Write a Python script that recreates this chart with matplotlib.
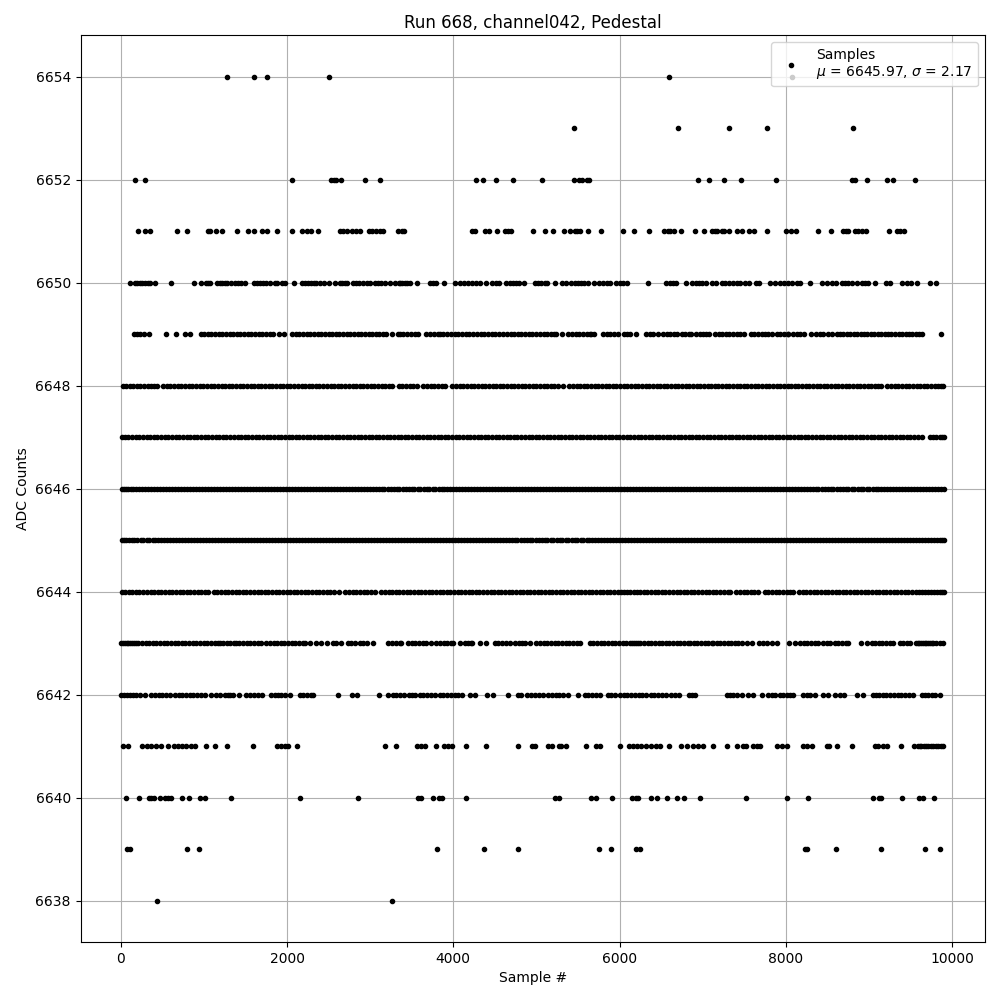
import matplotlib
matplotlib.use("Agg")
import matplotlib.pyplot as plt

# sample numbers, one list per ADC level
s6654 = [1279, 1604, 1761, 2507, 6596, 8068]
s6653 = [5453, 6708, 7318, 7776, 8810]
s6652 = [173, 297, 2062, 2531, 2563, 2595, 2655, 2940, 3120, 4274, 4359, 4515, 4719, 5068, 5453, 5513, 5545, 5606, 5638,
         6938, 7078, 7258, 7463, 7884, 8794, 8826, 8979, 9219, 9291, 9556]
s6651 = [209, 297, 353, 678, 798, 1047, 1071, 1151, 1219, 1400, 1532, 1608, 1705, 1761, 1881, 2062, 2178, 2242, 2286, 2374,
         2635, 2675, 2723, 2787, 2835, 2883, 2980, 3020, 3076, 3124, 3156, 3333, 3388, 3412, 4226, 4266, 4379, 4427, 4523,
         4619, 4659, 4691, 4960, 5104, 5201, 5329, 5401, 5461, 5493, 5525, 5622, 5782, 6035, 6175, 6356, 6536, 6588, 6604,
         6660, 6740, 6909, 7018, 7114, 7146, 7166, 7226, 7258, 7318, 7415, 7467, 7559, 7619, 7772, 8004, 8060, 8124, 8389,
         8546, 8690, 8718, 8750, 8830, 8870, 8910, 8959, 9239, 9339, 9372, 9424]
s6650 = [109, 169, 197, 229, 261, 293, 325, 349, 417, 606, 883, 971, 1031, 1055, 1071, 1159, 1191, 1223, 1251, 1284, 1332,
         1372, 1412, 1452, 1492, 1604, 1636, 1672, 1713, 1753, 1793, 1857, 1885, 1945, 1981, 2086, 2186, 2218, 2254, 2286,
         2322, 2354, 2394, 2442, 2503, 2575, 2635, 2663, 2695, 2723, 2795, 2827, 2867, 2916, 2956, 2996, 3056, 3096, 3136,
         3176, 3236, 3296, 3349, 3356, 3388, 3416, 3444, 3476, 3569, 3725, 3757, 3789, 3889, 4026, 4078, 4126, 4178, 4226,
         4270, 4318, 4399, 4471, 4511, 4551, 4639, 4679, 4719, 4760, 4792, 4852, 4980, 5020, 5060, 5100, 5132, 5229, 5313,
         5361, 5413, 5461, 5501, 5541, 5574, 5622, 5694, 5750, 5802, 5850, 5890, 5962, 6003, 6035, 6095, 6343, 6556, 6604,
         6644, 6676, 6800, 6873, 6913, 6954, 6994, 7034, 7114, 7154, 7226, 7266, 7314, 7367, 7415, 7447, 7507, 7555, 7639,
         7675, 7808, 7868, 7928, 7976, 8028, 8068, 8128, 8169, 8285, 8429, 8497, 8550, 8602, 8670, 8710, 8750, 8798, 8850,
         8910, 8950, 8991, 9067, 9203, 9251, 9400, 9460, 9500, 9572, 9737, 9801]
s6649 = [157, 197, 237, 277, 341, 542, 666, 770, 830, 960, 1005, 1045, 1090, 1130, 1180, 1220, 1265, 1310, 1350, 1400, 1440,
         1480, 1530, 1570, 1615, 1660, 1700, 1745, 1790, 1830, 1905, 1961, 2065, 2105, 2150, 2190, 2240, 2280, 2325, 2370,
         2410, 2460, 2500, 2540, 2590, 2630, 2670, 2720, 2760, 2805, 2850, 2890, 2940, 2980, 3025, 3070, 3110, 3155, 3196,
         3268, 3337, 3356, 3400, 3445, 3490, 3535, 3577, 3677, 3720, 3765, 3810, 3837, 3881, 3925, 3970, 4018, 4060, 4105,
         4150, 4190, 4240, 4285, 4330, 4370, 4420, 4465, 4505, 4555, 4600, 4640, 4690, 4730, 4775, 4820, 4860, 4910, 4950,
         4995, 5040, 5085, 5130, 5170, 5215, 5241, 5305, 5381, 5425, 5470, 5515, 5560, 5605, 5640, 5662, 5694, 5802, 5845,
         5890, 5935, 5983, 6051, 6090, 6120, 6203, 6315, 6360, 6405, 6456, 6524, 6570, 6610, 6655, 6685, 6756, 6785, 6837,
         6853, 6925, 6965, 7006, 7038, 7078, 7146, 7190, 7230, 7275, 7320, 7370, 7415, 7447, 7499, 7575, 7620, 7665, 7710,
         7750, 7790, 7828, 7888, 7930, 7975, 8020, 8028, 8088, 8130, 8175, 8220, 8297, 8361, 8405, 8450, 8510, 8550, 8610,
         8650, 8690, 8730, 8775, 8815, 8855, 8900, 8940, 8980, 9020, 9065, 9105, 9145, 9190, 9230, 9270, 9315, 9355, 9395,
         9440, 9480, 9520, 9565, 9600, 9632, 9861]
s6648 = [28, 65, 108, 150, 195, 235, 282, 325, 368, 400, 437, 510, 552, 598, 640, 688, 730, 775, 815, 862, 905, 950, 990,
         1038, 1080, 1125, 1165, 1212, 1255, 1300, 1340, 1388, 1430, 1475, 1515, 1562, 1605, 1650, 1690, 1738, 1780, 1825,
         1865, 1912, 1955, 2000, 2040, 2088, 2130, 2175, 2215, 2262, 2305, 2350, 2390, 2438, 2480, 2525, 2565, 2612, 2655,
         2700, 2740, 2788, 2830, 2875, 2915, 2962, 3005, 3050, 3090, 3138, 3180, 3225, 3265, 3345, 3388, 3432, 3475, 3520,
         3565, 3640, 3685, 3728, 3770, 3815, 3860, 3905, 3990, 4032, 4078, 4120, 4165, 4208, 4254, 4296, 4340, 4385, 4428,
         4472, 4515, 4560, 4602, 4648, 4690, 4735, 4778, 4822, 4866, 4910, 4954, 4998, 5040, 5085, 5128, 5172, 5216, 5260,
         5315, 5395, 5438, 5482, 5525, 5570, 5612, 5658, 5700, 5745, 5788, 5832, 5875, 5920, 5962, 6008, 6050, 6095, 6138,
         6182, 6226, 6270, 6312, 6358, 6400, 6445, 6488, 6532, 6576, 6620, 6662, 6708, 6750, 6795, 6838, 6882, 6926, 6970,
         7012, 7058, 7100, 7145, 7188, 7232, 7276, 7320, 7362, 7408, 7450, 7495, 7538, 7582, 7626, 7670, 7712, 7758, 7800,
         7845, 7888, 7932, 7976, 8020, 8062, 8108, 8150, 8195, 8238, 8282, 8326, 8370, 8412, 8458, 8500, 8545, 8588, 8632,
         8676, 8720, 8762, 8808, 8850, 8895, 8938, 8982, 9026, 9070, 9112, 9145, 9222, 9265, 9310, 9352, 9398, 9440, 9485,
         9528, 9572, 9616, 9660, 9702, 9748, 9790, 9835, 9870, 9893]
s6647 = [10, 48, 92, 135, 180, 222, 268, 310, 355, 398, 442, 486, 530, 572, 618, 660, 705, 748, 792, 836, 880, 922, 968,
         1010, 1055, 1098, 1142, 1186, 1230, 1272, 1318, 1360, 1405, 1448, 1492, 1536, 1580, 1622, 1668, 1710, 1755, 1798,
         1842, 1886, 1930, 1972, 2018, 2060, 2105, 2148, 2192, 2236, 2280, 2322, 2368, 2410, 2455, 2498, 2542, 2586, 2630,
         2672, 2718, 2760, 2805, 2848, 2892, 2936, 2980, 3022, 3068, 3110, 3155, 3198, 3242, 3286, 3330, 3372, 3418, 3460,
         3505, 3548, 3592, 3636, 3680, 3722, 3768, 3810, 3855, 3898, 3942, 3986, 4030, 4072, 4118, 4160, 4205, 4248, 4292,
         4336, 4380, 4422, 4468, 4510, 4555, 4598, 4642, 4686, 4730, 4772, 4818, 4860, 4905, 4948, 4992, 5036, 5080, 5122,
         5168, 5210, 5255, 5298, 5342, 5386, 5430, 5472, 5518, 5560, 5605, 5648, 5692, 5736, 5780, 5822, 5868, 5910, 5955,
         5998, 6042, 6086, 6130, 6172, 6218, 6260, 6305, 6348, 6392, 6436, 6480, 6522, 6568, 6610, 6655, 6698, 6742, 6786,
         6830, 6872, 6918, 6960, 7005, 7048, 7092, 7136, 7180, 7222, 7268, 7310, 7355, 7398, 7442, 7486, 7530, 7572, 7618,
         7660, 7705, 7748, 7792, 7836, 7880, 7922, 7968, 8010, 8055, 8098, 8142, 8186, 8230, 8272, 8318, 8360, 8405, 8448,
         8492, 8536, 8580, 8622, 8668, 8710, 8755, 8798, 8842, 8886, 8930, 8972, 9018, 9060, 9105, 9148, 9192, 9236, 9280,
         9322, 9368, 9410, 9455, 9498, 9542, 9586, 9636, 9733, 9773, 9810, 9850, 9880, 9905]
s6646 = [10, 35, 62, 90, 118, 152, 185, 222, 258, 292, 330, 365, 402, 438, 472, 510, 545, 582, 618, 652, 690, 725, 762, 798,
         832, 870, 905, 942, 978, 1012, 1050, 1085, 1122, 1158, 1192, 1230, 1265, 1302, 1338, 1372, 1410, 1445, 1482, 1518,
         1552, 1590, 1625, 1662, 1698, 1732, 1770, 1805, 1842, 1878, 1912, 1950, 1985, 2022, 2058, 2092, 2130, 2165, 2202,
         2238, 2272, 2310, 2345, 2382, 2418, 2452, 2490, 2525, 2562, 2598, 2632, 2670, 2705, 2742, 2778, 2812, 2850, 2885,
         2922, 2958, 2992, 3030, 3065, 3102, 3138, 3172, 3210, 3245, 3282, 3318, 3352, 3390, 3425, 3462, 3498, 3532, 3570,
         3605, 3642, 3678, 3712, 3750, 3785, 3822, 3858, 3892, 3930, 3965, 4002, 4038, 4072, 4110, 4145, 4182, 4218, 4252,
         4290, 4325, 4362, 4398, 4432, 4470, 4505, 4542, 4578, 4612, 4650, 4685, 4722, 4758, 4792, 4830, 4865, 4902, 4938,
         4972, 5010, 5045, 5082, 5118, 5152, 5190, 5225, 5262, 5298, 5332, 5370, 5405, 5442, 5478, 5512, 5550, 5585, 5622,
         5658, 5692, 5730, 5765, 5802, 5838, 5872, 5910, 5945, 5982, 6018, 6052, 6090, 6125, 6162, 6198, 6232, 6270, 6305,
         6342, 6378, 6412, 6450, 6485, 6522, 6558, 6592, 6630, 6665, 6702, 6738, 6772, 6810, 6845, 6882, 6918, 6952, 6990,
         7025, 7062, 7098, 7132, 7170, 7205, 7242, 7278, 7312, 7350, 7385, 7422, 7458, 7492, 7530, 7565, 7602, 7638, 7672,
         7710, 7745, 7782, 7818, 7852, 7890, 7925, 7962, 7998, 8032, 8070, 8105, 8142, 8178, 8212, 8250, 8285, 8322, 8358,
         8392, 8430, 8465, 8502, 8538, 8572, 8610, 8645, 8682, 8718, 8752, 8790, 8825, 8862, 8898, 8932, 8970, 9005, 9042,
         9078, 9112, 9150, 9185, 9222, 9258, 9292, 9330, 9365, 9402, 9438, 9472, 9510, 9545, 9582, 9618, 9652, 9690, 9725,
         9762, 9798, 9832, 9870, 9905]
s6645 = [12, 38, 68, 98, 130, 165, 200, 238, 272, 310, 345, 382, 418, 452, 490, 525, 562, 598, 632, 670, 705, 742, 778, 812,
         850, 885, 922, 958, 992, 1030, 1065, 1102, 1138, 1172, 1210, 1245, 1282, 1318, 1352, 1390, 1425, 1462, 1498, 1532,
         1570, 1605, 1642, 1678, 1712, 1750, 1785, 1822, 1858, 1892, 1930, 1965, 2002, 2038, 2072, 2110, 2145, 2182, 2218,
         2252, 2290, 2325, 2362, 2398, 2432, 2470, 2505, 2542, 2578, 2612, 2650, 2685, 2722, 2758, 2792, 2830, 2865, 2902,
         2938, 2972, 3010, 3045, 3082, 3118, 3152, 3190, 3225, 3262, 3298, 3332, 3370, 3405, 3442, 3478, 3512, 3550, 3585,
         3622, 3658, 3692, 3730, 3765, 3802, 3838, 3872, 3910, 3945, 3982, 4018, 4052, 4090, 4125, 4162, 4198, 4232, 4270,
         4305, 4342, 4378, 4412, 4450, 4485, 4522, 4558, 4592, 4630, 4665, 4702, 4738, 4772, 4810, 4845, 4882, 4918, 4952,
         4990, 5025, 5062, 5098, 5132, 5170, 5205, 5242, 5278, 5312, 5350, 5385, 5422, 5458, 5492, 5530, 5565, 5602, 5638,
         5672, 5710, 5745, 5782, 5818, 5852, 5890, 5925, 5962, 5998, 6032, 6070, 6105, 6142, 6178, 6212, 6250, 6285, 6322,
         6358, 6392, 6430, 6465, 6502, 6538, 6572, 6610, 6645, 6682, 6718, 6752, 6790, 6825, 6862, 6898, 6932, 6970, 7005,
         7042, 7078, 7112, 7150, 7185, 7222, 7258, 7292, 7330, 7365, 7402, 7438, 7472, 7510, 7545, 7582, 7618, 7652, 7690,
         7725, 7762, 7798, 7832, 7870, 7905, 7942, 7978, 8012, 8050, 8085, 8122, 8158, 8192, 8230, 8265, 8302, 8338, 8372,
         8410, 8445, 8482, 8518, 8552, 8590, 8625, 8662, 8698, 8732, 8770, 8805, 8842, 8878, 8912, 8950, 8985, 9022, 9058,
         9092, 9130, 9165, 9202, 9238, 9272, 9310, 9345, 9382, 9418, 9452, 9490, 9525, 9562, 9598, 9632, 9670, 9705, 9742,
         9778, 9812, 9850, 9880, 9905]
s6644 = [12, 50, 95, 138, 182, 225, 270, 312, 358, 400, 445, 488, 532, 575, 620, 662, 708, 750, 795, 838, 882, 925, 970,
         1012, 1045, 1120, 1162, 1208, 1250, 1295, 1338, 1382, 1425, 1470, 1512, 1558, 1600, 1645, 1688, 1732, 1775, 1820,
         1862, 1908, 1950, 1995, 2038, 2082, 2125, 2170, 2212, 2258, 2300, 2345, 2388, 2432, 2475, 2520, 2562, 2630, 2700,
         2745, 2788, 2832, 2875, 2920, 2962, 3008, 3060, 3135, 3178, 3222, 3265, 3310, 3352, 3398, 3440, 3485, 3528, 3572,
         3615, 3660, 3702, 3748, 3790, 3835, 3878, 3922, 3965, 4010, 4052, 4098, 4140, 4185, 4228, 4272, 4315, 4360, 4402,
         4448, 4490, 4535, 4578, 4622, 4665, 4710, 4752, 4798, 4840, 4885, 4928, 4972, 5015, 5060, 5102, 5148, 5190, 5235,
         5278, 5322, 5365, 5410, 5452, 5498, 5540, 5585, 5628, 5672, 5715, 5760, 5802, 5848, 5890, 5935, 5978, 6022, 6058,
         6095, 6130, 6170, 6210, 6250, 6292, 6335, 6378, 6422, 6465, 6510, 6552, 6598, 6640, 6685, 6728, 6772, 6815, 6860,
         6900, 6945, 6990, 7035, 7078, 7122, 7165, 7210, 7252, 7298, 7330, 7405, 7448, 7492, 7535, 7580, 7622, 7670, 7745,
         7790, 7832, 7878, 7920, 7965, 8008, 8052, 8085, 8160, 8202, 8248, 8290, 8335, 8378, 8422, 8465, 8510, 8552, 8598,
         8640, 8685, 8728, 8772, 8815, 8860, 8902, 8948, 8990, 9035, 9078, 9122, 9165, 9210, 9252, 9298, 9340, 9385, 9428,
         9472, 9515, 9560, 9602, 9640, 9675, 9710, 9745, 9780, 9815, 9850, 9880, 9905]
s6643 = [8, 28, 48, 70, 90, 110, 135, 160, 189, 209, 252, 298, 340, 385, 428, 472, 515, 560, 602, 648, 690, 735, 778, 822,
         865, 910, 952, 998, 1040, 1085, 1128, 1172, 1191, 1231, 1275, 1320, 1360, 1384, 1428, 1472, 1515, 1560, 1602, 1652,
         1693, 1753, 1793, 1838, 1880, 1925, 1968, 2012, 2055, 2100, 2142, 2188, 2214, 2274, 2346, 2414, 2475, 2555, 2595,
         2655, 2735, 2775, 2819, 2883, 2916, 2956, 3032, 3216, 3260, 3305, 3357, 3376, 3456, 3500, 3545, 3588, 3632, 3677,
         3737, 3797, 3840, 3885, 3928, 3972, 3998, 4078, 4138, 4175, 4210, 4230, 4318, 4390, 4499, 4542, 4588, 4630, 4680,
         4740, 4785, 4828, 4860, 4920, 5000, 5045, 5090, 5132, 5178, 5220, 5265, 5308, 5352, 5395, 5440, 5482, 5521, 5642,
         5685, 5730, 5772, 5818, 5860, 5905, 5948, 5992, 6035, 6080, 6122, 6150, 6175, 6200, 6225, 6250, 6295, 6338, 6382,
         6425, 6470, 6512, 6558, 6600, 6645, 6688, 6732, 6775, 6820, 6845, 6890, 6935, 6978, 7022, 7065, 7110, 7126, 7166,
         7210, 7255, 7298, 7342, 7385, 7430, 7472, 7527, 7587, 7671, 7728, 7775, 7828, 7888, 8040, 8108, 8169, 8212, 8258,
         8300, 8345, 8389, 8449, 8490, 8530, 8590, 8632, 8678, 8720, 8750, 8906, 8979, 9031, 9075, 9118, 9162, 9205, 9250,
         9291, 9372, 9412, 9452, 9492, 9564, 9585, 9605, 9625, 9648, 9668, 9690, 9710, 9730, 9752, 9772, 9810, 9850, 9893]
s6642 = [8, 40, 75, 110, 149, 189, 229, 289, 369, 410, 455, 500, 545, 590, 650, 695, 740, 785, 830, 875, 920, 965, 1011,
         1083, 1143, 1199, 1251, 1290, 1320, 1352, 1424, 1512, 1555, 1600, 1652, 1705, 1813, 1853, 1893, 1933, 1973, 2037,
         2154, 2195, 2240, 2284, 2314, 2615, 2779, 2843, 3108, 3216, 3277, 3310, 3357, 3404, 3468, 3500, 3536, 3597, 3640,
         3685, 3735, 3777, 3837, 3880, 3925, 3970, 4018, 4058, 4106, 4206, 4258, 4407, 4479, 4659, 4780, 4820, 4888, 4940,
         4985, 5030, 5080, 5140, 5185, 5230, 5275, 5320, 5381, 5501, 5582, 5625, 5670, 5715, 5762, 5862, 5900, 5942, 6003,
         6050, 6095, 6140, 6185, 6230, 6275, 6323, 6372, 6415, 6460, 6515, 6564, 6616, 6664, 6716, 6837, 6870, 6905, 7286,
         7325, 7367, 7415, 7475, 7547, 7607, 7707, 7788, 7830, 7868, 7928, 7970, 8010, 8050, 8088, 8209, 8250, 8290, 8349,
         8441, 8509, 8590, 8650, 8702, 8858, 8931, 9043, 9085, 9125, 9165, 9205, 9251, 9300, 9345, 9390, 9435, 9480, 9532,
         9632, 9675, 9715, 9755, 9790, 9853]
s6641 = [28, 89, 261, 317, 369, 429, 490, 570, 642, 690, 742, 790, 850, 891, 1031, 1139, 1280, 1592, 1881, 1933, 1973, 2013,
         2122, 3180, 3312, 3565, 3617, 3665, 3789, 3885, 3937, 3990, 4154, 4399, 4780, 4952, 4980, 5140, 5193, 5273, 5301,
         5361, 5590, 5714, 5762, 6003, 6115, 6163, 6211, 6263, 6323, 6372, 6436, 6484, 6596, 6744, 6805, 6885, 6946, 7006,
         7126, 7294, 7415, 7479, 7515, 7607, 7655, 7687, 7888, 7956, 8016, 8201, 8249, 8309, 8489, 8517, 8614, 8798, 9067,
         9111, 9171, 9219, 9388, 9544, 9590, 9612, 9630, 9660, 9690, 9712, 9740, 9773, 9800, 9833, 9860, 9893]
s6640 = [65, 221, 341, 369, 397, 474, 530, 570, 610, 738, 822, 951, 1011, 1328, 2158, 2855, 3577, 3609, 3757, 3829, 3869,
         4154, 5221, 5273, 5662, 5722, 5910, 6151, 6195, 6227, 6380, 6444, 6572, 6692, 6777, 6970, 7523, 8016, 8269, 9051,
         9119, 9143, 9400, 9604, 9644, 9785]
s6639 = [81, 109, 798, 943, 3805, 4371, 4780, 5754, 5898, 6203, 6251, 8229, 8257, 8606, 9147, 9676, 9849]
s6638 = [437, 3264]

levels = [6654, 6653, 6652, 6651, 6650, 6649, 6648, 6647, 6646, 6645, 6644, 6643, 6642, 6641, 6640, 6639, 6638]
samples = [s6654, s6653, s6652, s6651, s6650, s6649, s6648, s6647, s6646, s6645, s6644, s6643, s6642, s6641, s6640, s6639, s6638]

title = "Run 668, channel042, Pedestal"
legend_label = "Samples\n$\\mu$ = 6645.97, $\\sigma$ = 2.17"

xs = [x for row in samples for x in row]
ys = [lvl for lvl, row in zip(levels, samples) for _ in row]

fig, ax = plt.subplots(figsize=(10, 10), dpi=100)
ax.plot(xs, ys, "k.", ms=6, label=legend_label)
ax.set_title(title, pad=5)
ax.set_xlabel("Sample #")
ax.set_ylabel("ADC Counts")
ax.grid(True)
ax.set_xlim(-484, 10395)
ax.set_ylim(6637.2, 6654.81)
ax.legend(loc="upper right")
fig.subplots_adjust(left=0.0805, right=0.985, top=0.965, bottom=0.058)
fig.savefig("out.png", dpi=100)
